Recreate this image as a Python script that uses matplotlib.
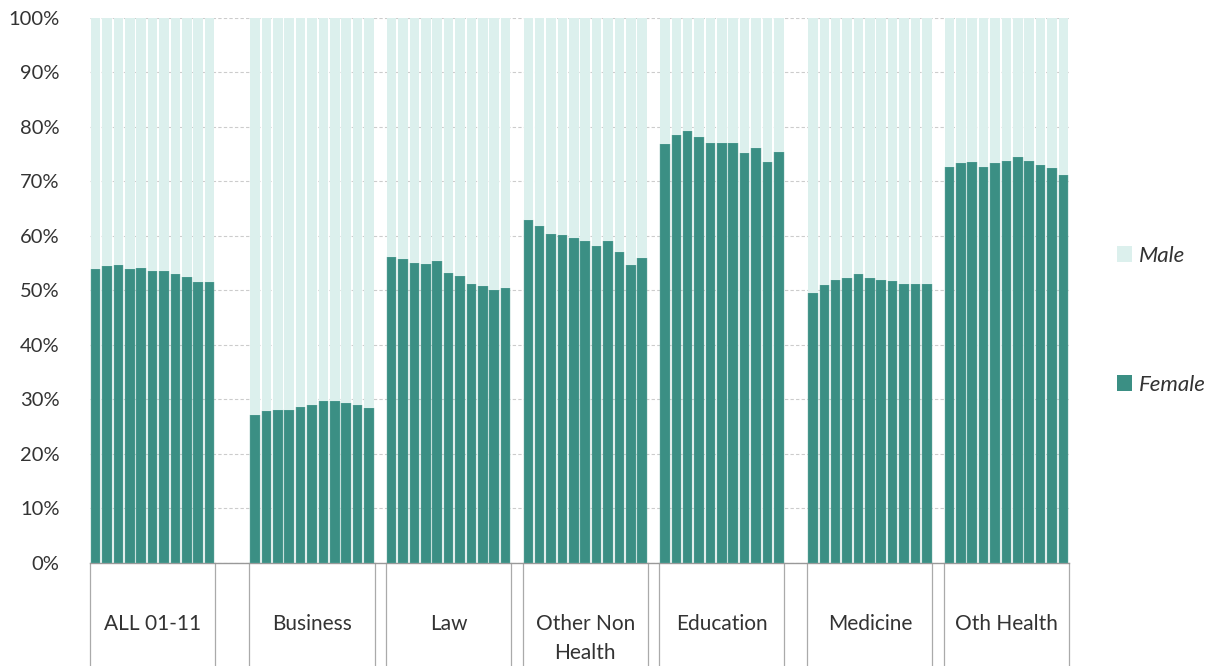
import numpy as np
import matplotlib.pyplot as plt
import matplotlib.transforms as mtransforms
from matplotlib.patches import Patch

plt.rcParams['font.family'] = ['Lato', 'DejaVu Sans']

groups = ["ALL 01-11", "Business", "Law", "Other Non\nHealth", "Education", "Medicine", "Oth Health"]
years = list(range(2001, 2012))

# share of female students (%), 2001-2011, per field
female = {
    "ALL 01-11": [53.9, 54.5, 54.7, 53.9, 54.1, 53.6, 53.5, 53.0, 52.5, 51.6, 51.6],
    "Business": [27.2, 27.8, 28.0, 28.1, 28.6, 29.0, 29.7, 29.7, 29.4, 29.0, 28.5],
    "Law": [56.1, 55.8, 55.0, 54.8, 55.4, 53.2, 52.7, 51.1, 50.8, 50.0, 50.5],
    "Other Non\nHealth": [62.9, 61.8, 60.4, 60.1, 59.6, 59.0, 58.2, 59.1, 57.0, 54.7, 55.9],
    "Education": [76.8, 78.5, 79.3, 78.2, 77.0, 77.1, 77.1, 75.2, 76.2, 73.5, 75.4],
    "Medicine": [49.5, 51.0, 51.9, 52.3, 53.0, 52.3, 52.0, 51.7, 51.2, 51.1, 51.2],
    "Oth Health": [72.7, 73.3, 73.6, 72.7, 73.4, 73.8, 74.4, 73.8, 73.0, 72.5, 71.1],
}
# empty category slots after each group (layout of the original axis)
gap_slots = [3, 1, 1, 1, 2, 1, 0]

FEMALE_C = "#3b8f84"
MALE_C = "#dcf0ed"

fig = plt.figure(figsize=(12.1, 6.66), dpi=100)
ax = fig.add_axes([0.0744, 0.1547, 0.8091, 0.8183])

n = len(years)
start = 0
bounds = []
for g, gap in zip(groups, gap_slots):
    x = start + np.arange(n)
    f = np.array(female[g])
    ax.bar(x, f, width=0.84, color=FEMALE_C, edgecolor="#6fb0a6", linewidth=0.3, zorder=3)
    ax.bar(x, 100 - f, bottom=f, width=0.84, color=MALE_C, linewidth=0, zorder=3)
    bounds.append((start - 0.5, start + n - 0.5))
    start += n + gap

total = start
ax.set_xlim(-0.5, total - 0.5)
ax.set_ylim(0, 100)
ax.set_yticks(np.arange(0, 101, 10))
ax.set_yticklabels([f"{v}%" for v in range(0, 101, 10)], fontsize=14.5, color="#333333")
ax.tick_params(axis="y", length=0, pad=22)
ax.set_xticks([])
for s in ["top", "right", "left"]:
    ax.spines[s].set_visible(False)
ax.spines["bottom"].set_color("#999999")
ax.spines["bottom"].set_linewidth(1.0)
ax.yaxis.grid(True, linestyle=(0, (3, 2)), color="#cccccc", linewidth=0.8, zorder=0)
ax.set_axisbelow(True)

# table-like category axis below the plot
trans = mtransforms.blended_transform_factory(ax.transData, ax.transAxes)
for (lo, hi), g in zip(bounds, groups):
    for xv in (lo, hi):
        ax.plot([xv, xv], [0, -0.2], transform=trans, color="#aaaaaa",
                linewidth=0.9, clip_on=False)
    ax.text((lo + hi) / 2, -0.093, g, transform=trans, ha="center", va="top",
            fontsize=15, color="#333333", linespacing=1.6)

handles = [Patch(facecolor=MALE_C, label="Male"), Patch(facecolor=FEMALE_C, label="Female")]
leg = fig.legend(handles=handles, loc="center left", bbox_to_anchor=(0.912, 0.519),
                 frameon=False, handlelength=0.7, handleheight=0.7, handletextpad=0.3,
                 borderpad=0.1, labelspacing=4.9, prop={"style": "italic", "size": 16})
for t in leg.get_texts():
    t.set_color("#333333")

fig.savefig("out.png", dpi=100)
